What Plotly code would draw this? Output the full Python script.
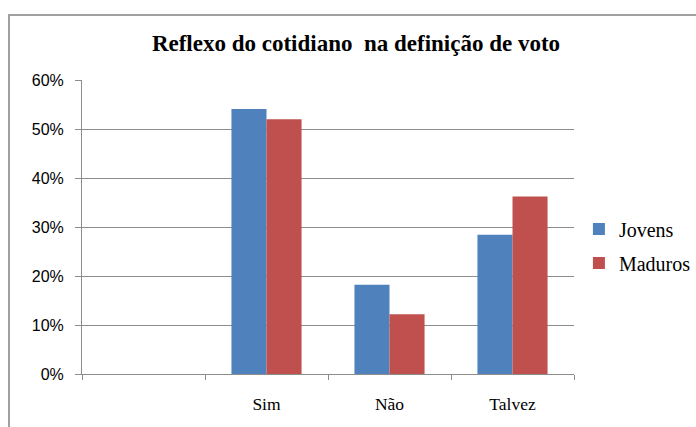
import plotly.graph_objects as go

categories = [" ", "Sim", "Não", "Talvez"]
jovens = [None, 54.1, 18.2, 28.4]
maduros = [None, 52.0, 12.2, 36.2]
y_ticks = [0, 10, 20, 30, 40, 50, 60]
y_tick_text = ["0%", "10%", "20%", "30%", "40%", "50%", "60%"]

SERIF = "Liberation Serif"
SANS = "Liberation Sans"

fig = go.Figure()
fig.add_trace(go.Bar(x=categories, y=jovens, name="Jovens", marker_color="#4F81BD",
                     marker_line_width=0, legendgroup="a"))
fig.add_trace(go.Bar(x=categories, y=maduros, name="Maduros", marker_color="#C0504D",
                     marker_line_width=0, legendgroup="b"))

grid = "#8C8C8C"
fig.update_layout(
    width=696, height=427,
    margin=dict(l=82, r=122, t=80, b=53, autoexpand=False),
    paper_bgcolor="white", plot_bgcolor="white",
    barmode="group", bargap=0.43, bargroupgap=0,
    title=dict(text="<b>Reflexo do cotidiano  na definição de voto</b>",
               x=0.5115, xanchor="center", y=0.9, yanchor="middle",
               font=dict(family=SERIF, size=23, color="black")),
    legend=dict(x=1.01, y=0.435, xanchor="left", yanchor="middle",
                font=dict(family=SERIF, size=20, color="black"),
                tracegroupgap=5, itemwidth=30, bgcolor="rgba(0,0,0,0)"),
    xaxis=dict(type="category", categoryorder="array", categoryarray=categories,
               showline=True, linecolor=grid, linewidth=1,
               ticks="outside", tickson="boundaries", ticklen=5, tickcolor=grid,
               showgrid=False, ticklabelstandoff=14,
               tickfont=dict(family=SERIF, size=17.5, color="black")),
    yaxis=dict(range=[0, 60], tickvals=y_ticks, ticktext=y_tick_text,
               showline=True, linecolor=grid, linewidth=1,
               showgrid=True, gridcolor=grid, gridwidth=1,
               ticks="outside", ticklen=6, tickcolor=grid, ticklabelstandoff=8,
               zeroline=False,
               tickfont=dict(family=SANS, size=16, color="black")),
    shapes=[dict(type="rect", xref="paper", yref="paper",
                 x0=(9 - 82) / 492, x1=(720 - 82) / 492,
                 y0=(374 - 450) / 294, y1=(374 - 15) / 294,
                 line=dict(color="#A0A0A0", width=2), fillcolor="rgba(0,0,0,0)",
                 layer="below")],
)
fig.write_html("out.html", config={"displayModeBar": False},
               post_script="document.body.style.margin='0';document.body.style.overflow='hidden';")
